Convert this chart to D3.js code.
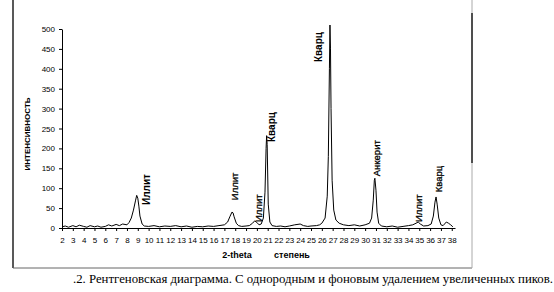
<!DOCTYPE html>
<html>
<head>
<meta charset="utf-8">
<script src="https://cdn.jsdelivr.net/npm/d3@7"></script>
<style>
  body { margin: 0; background: #fff; }
  svg { display: block; }
</style>
</head>
<body>
<svg></svg>
<script>
const svgWidth = 554
const svgHeight = 292
const margins = { top: 29, left: 62, bottom: 64, right: 99 }

// 2-theta (degrees) and intensity
const theta = [2, 2.3, 2.6, 3, 3.3, 3.6, 4, 4.3, 4.6, 5, 5.3, 5.6, 6, 6.3, 6.6, 7, 7.3, 7.6, 8, 8.2, 8.4, 8.6, 8.8, 8.9, 9.0, 9.1, 9.2, 9.4, 9.6,
  10, 10.5, 11, 11.5, 12, 12.5, 13, 13.5, 14, 14.5, 15, 15.5, 16, 16.5, 17, 17.3, 17.5, 17.7, 17.8, 17.9, 18.1, 18.3, 18.6,
  19, 19.3, 19.6, 19.8, 20, 20.2, 20.4, 20.6, 20.75, 20.85, 20.9, 20.95, 21.05, 21.2, 21.4, 21.8, 22.2, 22.6, 23, 23.5, 24, 24.3, 24.7,
  25, 25.5, 25.8, 26, 26.3, 26.5, 26.6, 26.7, 26.75, 26.8, 26.85, 26.95, 27.1, 27.3, 27.6, 28, 28.5, 29, 29.5, 30, 30.4, 30.6, 30.75,
  30.85, 30.9, 31, 31.1, 31.25, 31.5, 32, 32.5, 33, 33.5, 34, 34.4, 34.7, 34.9, 35.1, 35.4, 35.8, 36.1, 36.3, 36.45, 36.55, 36.65,
  36.8, 37, 37.2, 37.5, 37.7, 37.9, 38.1]
const intensity = [3, 5, 2, 6, 3, 7, 4, 2, 6, 3, 5, 2, 4, 8, 5, 9, 6, 10, 8, 14, 25, 45, 70, 82, 75, 55, 30, 10, 5,
  4, 6, 3, 5, 4, 6, 3, 5, 2, 4, 3, 5, 4, 6, 8, 15, 28, 40, 38, 28, 12, 6, 4,
  5, 6, 12, 18, 14, 8, 10, 25, 90, 200, 232, 210, 60, 15, 6, 4, 5, 3, 5, 8, 10, 6, 4,
  5, 6, 8, 12, 25, 80, 180, 400, 510, 450, 300, 120, 45, 20, 12, 8, 6, 8, 5, 8, 12, 25, 70,
  120, 125, 95, 40, 12, 5, 3, 5, 2, 4, 6, 8, 12, 15, 10, 5, 6, 10, 30, 65, 78, 60,
  25, 8, 6, 15, 12, 8, 3]

const yTicks = [0, 50, 100, 150, 200, 250, 300, 350, 400, 450, 500]
const xTicks = d3.range(2, 39)

// peak annotations: name, 2-theta, intensity where the label starts, bold?
const peakNames = ["Иллит", "Иллит", "Иллит", "Кварц", "Кварц", "Анкерит", "Иллит", "Кварц"]
const peakTheta = [9.85, 18.07, 20.2, 21.4, 25.8, 31.1, 35.05, 36.9]
const peakLevel = [58, 70, 15, 216, 417, 130, 15, 90]
const peakBold = [true, false, false, true, true, false, false, false]

const caption = ".2.  Рентгеновская диаграмма. С однородным и фоновым удалением увеличенных пиков."

const svg = d3.select("svg")
    .attr("width", svgWidth)
    .attr("height", svgHeight)

// frame around the figure
svg.append("line").attr("x1", 13).attr("x2", 13).attr("y1", 0).attr("y2", 268)
    .attr("stroke", "#222").attr("stroke-width", 1.5)
svg.append("line").attr("x1", 13).attr("x2", 472).attr("y1", 268).attr("y2", 268)
    .attr("stroke", "#666").attr("stroke-width", 1)
svg.append("line").attr("x1", 472).attr("x2", 472).attr("y1", 0).attr("y2", 268)
    .attr("stroke", "#aaa").attr("stroke-width", 1)
svg.append("line").attr("x1", 472).attr("x2", 472).attr("y1", 13).attr("y2", 163)
    .attr("stroke", "#222").attr("stroke-width", 1.5)

const xScale = d3.scaleLinear()
    .domain([2, 38.3])
    .range([margins.left, svgWidth - margins.right])
const yScale = d3.scaleLinear()
    .domain([0, 500])
    .range([svgHeight - margins.bottom, margins.top])

const x0 = yScale(0)

svg.append("g")
    .attr("transform", `translate(0,${x0})`)
    .call(d3.axisBottom(xScale).tickValues(xTicks).tickFormat(d3.format("d")).tickSize(3).tickSizeOuter(0).tickPadding(6))
    .call(g => g.select(".domain").attr("stroke", "#000"))
    .call(g => g.selectAll("text").attr("font-family", "Liberation Sans, Arial, sans-serif").attr("font-size", 8).attr("fill", "#000"))

svg.append("g")
    .attr("transform", `translate(${margins.left},0)`)
    .call(d3.axisLeft(yScale).tickValues(yTicks).tickSize(3).tickSizeOuter(0).tickPadding(4))
    .call(g => g.select(".domain").attr("stroke", "#000"))
    .call(g => g.selectAll("text").attr("font-family", "Liberation Sans, Arial, sans-serif").attr("font-size", 8).attr("fill", "#000"))

const points = theta.map((t, i) => [t, intensity[i]])
const line = d3.line()
    .x(d => xScale(d[0]))
    .y(d => yScale(d[1]))

svg.append("path")
    .datum(points)
    .attr("d", line)
    .attr("fill", "none")
    .attr("stroke", "#000")
    .attr("stroke-width", 1)
    .attr("stroke-linejoin", "round")

svg.selectAll(".peak-label")
    .data(peakNames)
    .join("text")
    .attr("class", "peak-label")
    .attr("transform", (d, i) => `translate(${xScale(peakTheta[i])},${yScale(peakLevel[i])}) rotate(-90)`)
    .attr("dominant-baseline", "middle")
    .attr("font-family", "Liberation Sans, Arial, sans-serif")
    .attr("font-size", (d, i) => peakBold[i] ? 10 : 9.5)
    .attr("font-weight", (d, i) => peakBold[i] ? "bold" : "normal")
    .attr("stroke", "#000")
    .attr("stroke-width", (d, i) => peakBold[i] ? 0 : 0.3)
    .text(d => d)

svg.append("text")
    .attr("transform", "translate(30,134) rotate(-90)")
    .attr("text-anchor", "middle")
    .attr("font-family", "Liberation Sans, Arial, sans-serif")
    .attr("font-size", 8)
    .attr("font-weight", "bold")
    .text("ИНТЕНСИВНОСТЬ")

svg.append("text")
    .attr("x", 237).attr("y", 258)
    .attr("text-anchor", "middle")
    .attr("font-family", "Liberation Sans, Arial, sans-serif")
    .attr("font-size", 9)
    .attr("font-weight", "bold")
    .text("2-theta")

svg.append("text")
    .attr("x", 292).attr("y", 258)
    .attr("text-anchor", "middle")
    .attr("font-family", "Liberation Sans, Arial, sans-serif")
    .attr("font-size", 9)
    .attr("font-weight", "bold")
    .text("степень")

svg.append("text")
    .attr("x", 73).attr("y", 283)
    .attr("font-family", "Liberation Serif, Times New Roman, serif")
    .attr("font-size", 12.8)
    .text(caption)
</script>
</body>
</html>
